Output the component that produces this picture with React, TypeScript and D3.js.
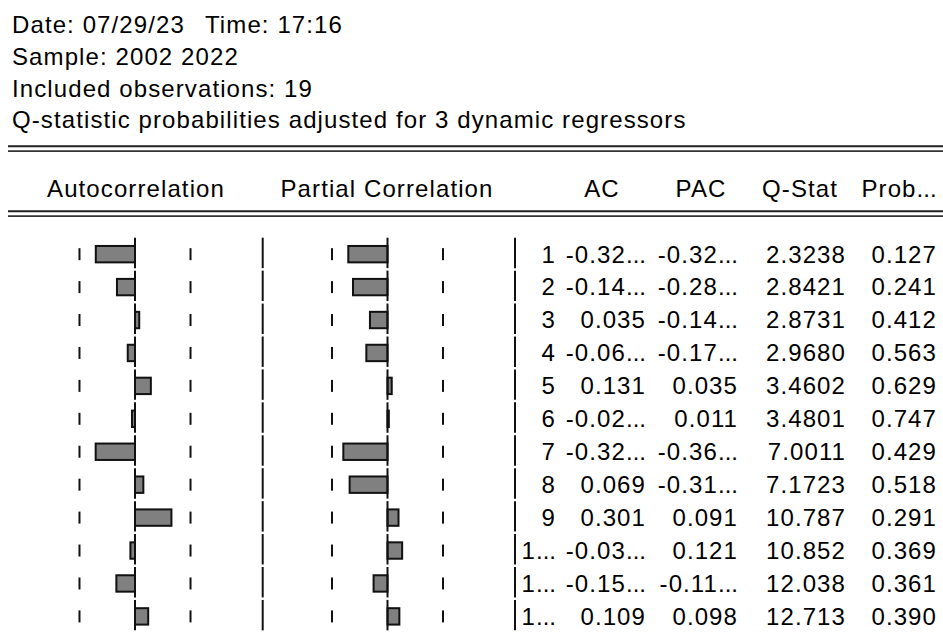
import React from "react";
import * as d3 from "d3";

// correlogram values
const lags = [1, 2, 3, 4, 5, 6, 7, 8, 9, 10, 11, 12];
const lagLabels = ["1", "2", "3", "4", "5", "6", "7", "8", "9", "1...", "1...", "1..."];
const acValues = [-0.324, -0.149, 0.035, -0.06, 0.131, -0.025, -0.325, 0.069, 0.301, -0.038, -0.154, 0.109];
const pacValues = [-0.324, -0.285, -0.145, -0.175, 0.035, 0.011, -0.365, -0.313, 0.091, 0.121, -0.115, 0.098];
const acLabels = ["-0.32...", "-0.14...", "0.035", "-0.06...", "0.131", "-0.02...", "-0.32...", "0.069", "0.301", "-0.03...", "-0.15...", "0.109"];
const pacLabels = ["-0.32...", "-0.28...", "-0.14...", "-0.17...", "0.035", "0.011", "-0.36...", "-0.31...", "0.091", "0.121", "-0.11...", "0.098"];
const qStats = ["2.3238", "2.8421", "2.8731", "2.9680", "3.4602", "3.4801", "7.0011", "7.1723", "10.787", "10.852", "12.038", "12.713"];
const probs = ["0.127", "0.241", "0.412", "0.563", "0.629", "0.747", "0.429", "0.518", "0.291", "0.369", "0.361", "0.390"];
const columns = ["AC", "PAC", "Q-Stat", "Prob..."];
const observations = 19;

const width = 943;
const height = 639;
const font = "'Liberation Sans', Arial, sans-serif";

// truncated cells: the dots sit tighter than the digits
const cell = (s: string) => {
  if (!s.endsWith("...")) return s;
  return (
    <>
      {s.slice(0, -3)}
      <tspan letterSpacing={0}>...</tspan>
    </>
  );
};

const App = () => {
  const y = d3.scaleBand<number>().domain(lags).range([237.7, 237.7 + 12 * 32.93]).padding(0);
  const bw = y.bandwidth();
  const band = 2 / Math.sqrt(observations);

  const acX = d3.scaleLinear().domain([-1, 1]).range([135 - 121, 135 + 121]);
  const pacX = d3.scaleLinear().domain([-1, 1]).range([387.5 - 121, 387.5 + 121]);

  // column right edges for the table, header centers
  const colRight = [646, 738, 846, 937];
  const colCenter = [602, 701, 800, 899];

  const barPanel = (x: d3.ScaleLinear<number, number>, values: number[], key: string) =>
    lags.map((lag, i) => {
      const top = y(lag)!;
      const mid = top + bw / 2;
      const v = values[i];
      const x0 = x(0);
      const x1 = x(v);
      return (
        <g key={key + lag}>
          {[-band, band].map((b) => (
            <line key={b} x1={x(b)} x2={x(b)} y1={mid - 6} y2={mid + 6} stroke="#111" strokeWidth={2} />
          ))}
          <rect
            x={Math.min(x0, x1)}
            y={mid - 8.2}
            width={Math.abs(x1 - x0)}
            height={16.4}
            fill="#808080"
            stroke="#111"
            strokeWidth={2}
          />
          <line x1={x0} x2={x0} y1={top} y2={top + bw - 2.5} stroke="#111" strokeWidth={2} />
        </g>
      );
    });

  return (
    <svg
      width={width}
      height={height}
      style={{ position: "absolute", left: 0, top: 0, background: "#fff" }}
      fontFamily={font}
      fontSize={24}
      letterSpacing={1.1}
    >
      <g fill="#000">
        <text x={12} y={33}>
          Date: 07/29/23
          <tspan x={205}>Time: 17:16</tspan>
        </text>
        <text x={12} y={65}>Sample: 2002 2022</text>
        <text x={12} y={97}>Included observations: 19</text>
        <text x={12} y={128}>Q-statistic probabilities adjusted for 3 dynamic regressors</text>
      </g>

      {/* double rules around the column headers */}
      <line x1={8} x2={width} y1={146.2} y2={146.2} stroke="#222" strokeWidth={2} />
      <line x1={8} x2={width} y1={151.2} y2={151.2} stroke="#333" strokeWidth={1.8} />
      <line x1={8} x2={width} y1={211.2} y2={211.2} stroke="#222" strokeWidth={2} />
      <line x1={8} x2={width} y1={216.2} y2={216.2} stroke="#333" strokeWidth={1.8} />

      <g fill="#000" textAnchor="middle">
        <text x={136} y={197}>Autocorrelation</text>
        <text x={387} y={197}>Partial Correlation</text>
        {columns.map((c, i) => (
          <text key={c} x={colCenter[i]} y={197}>{cell(c)}</text>
        ))}
      </g>

      {barPanel(acX, acValues, "ac")}
      {barPanel(pacX, pacValues, "pac")}

      {lags.map((lag) => {
        const top = y(lag)!;
        return (
          <g key={"sep" + lag}>
            <line x1={262.7} x2={262.7} y1={top} y2={top + bw - 2.5} stroke="#111" strokeWidth={2} />
            <line x1={515} x2={515} y1={top} y2={top + bw - 2.5} stroke="#111" strokeWidth={2} />
          </g>
        );
      })}

      <g fill="#000" textAnchor="end">
        {lags.map((lag, i) => {
          const base = y(lag)! + bw / 2 + 8.4;
          const cells = [acLabels[i], pacLabels[i], qStats[i], probs[i]];
          return (
            <g key={"row" + lag}>
              <text x={556} y={base}>{cell(lagLabels[i])}</text>
              {cells.map((c, j) => (
                <text key={j} x={colRight[j]} y={base}>{cell(c)}</text>
              ))}
            </g>
          );
        })}
      </g>
    </svg>
  );
};

export default App;
